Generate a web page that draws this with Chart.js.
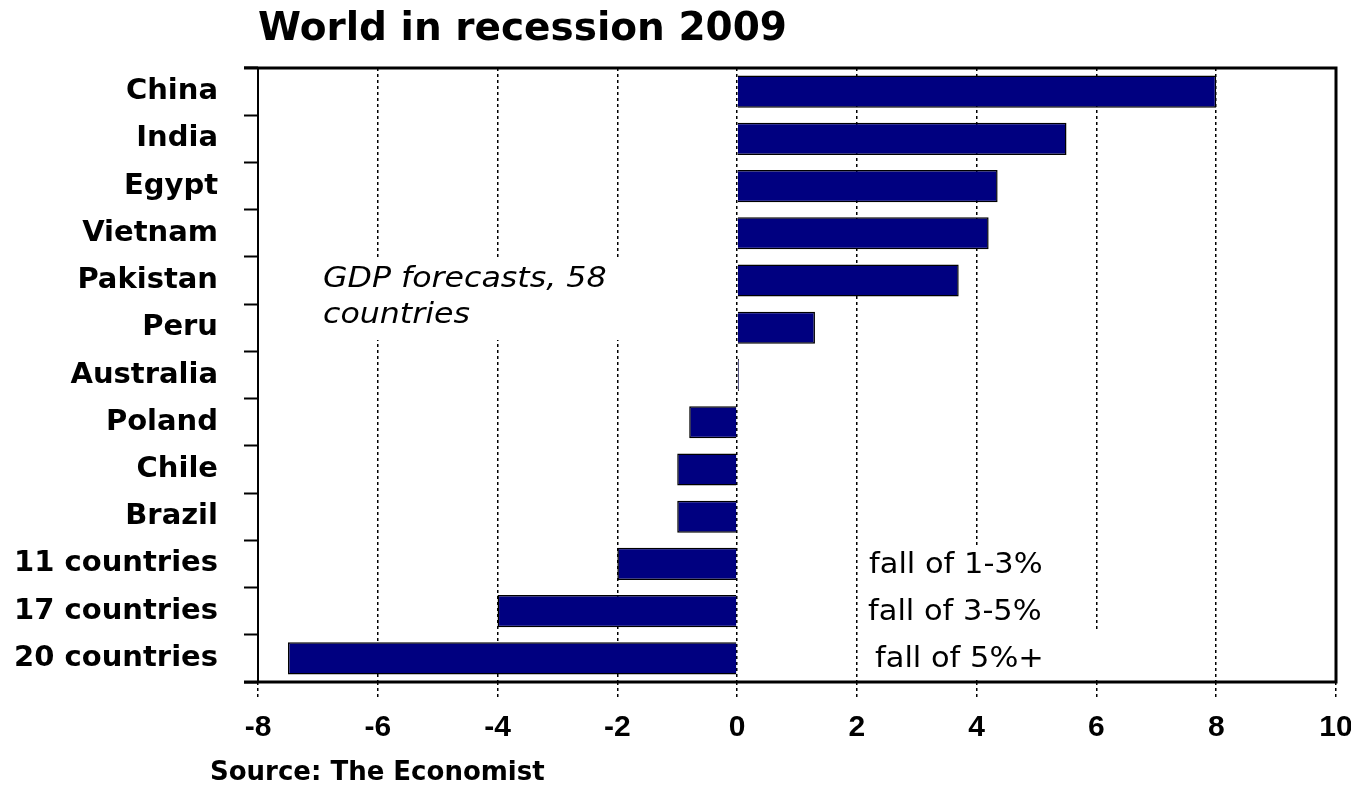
<!DOCTYPE html>
<html>
<head>
<meta charset="utf-8">
<script src="https://cdn.jsdelivr.net/npm/chart.js@4/dist/chart.umd.min.js"></script>
<style>
  html, body { margin: 0; padding: 0; background: #ffffff; }
  #wrap { position: absolute; left: 0; top: 0; width: 1351px; height: 785px; }
</style>
</head>
<body>
<div id="wrap"><canvas id="c" width="1351" height="785"></canvas></div>
<script>
// ---- data ----
const categories = ['China', 'India', 'Egypt', 'Vietnam', 'Pakistan', 'Peru', 'Australia',
  'Poland', 'Chile', 'Brazil', '11 countries', '17 countries', '20 countries'];
const gdpForecast = [8.0, 5.5, 4.35, 4.2, 3.7, 1.3, 0.03, -0.8, -1.0, -1.0, -2.0, -4.0, -7.5];
const xTicks = [-8, -6, -4, -2, 0, 2, 4, 6, 8, 10];
const titleText = 'World in recession 2009';
const sourceText = 'Source: The Economist';
const noteLines = ['GDP forecasts, 58', 'countries'];
const fallLabels = ['fall of 1-3%', 'fall of 3-5%', 'fall of 5%+'];
const fallRows = ['11 countries', '17 countries', '20 countries'];

const overlayPlugin = {
  id: 'overlay',
  beforeDatasetsDraw(chart) {
    const ctx = chart.ctx;
    const ys = chart.scales.y;
    ctx.save();
    // white boxes behind annotation texts (hide grid lines)
    ctx.fillStyle = '#ffffff';
    ctx.fillRect(318, 257, 312, 83);
    ctx.fillRect(864, 545, 191, 85);
    ctx.fillRect(864, 630, 243, chart.chartArea.bottom - 632);
    // GDP note
    ctx.fillStyle = '#000000';
    ctx.font = 'italic 28px "DejaVu Sans"';
    ctx.textBaseline = 'alphabetic';
    ctx.textAlign = 'left';
    const nx = 323;
    [287, 323].forEach((by, i) => {
      ctx.save();
      ctx.translate(nx, by);
      ctx.scale(1.13, 1);
      ctx.fillText(noteLines[i], 0, 0);
      ctx.restore();
    });
    // fall labels
    ctx.font = '29px "DejaVu Sans"';
    const fx = [869, 868, 875];
    fallLabels.forEach((t, i) => {
      const yy = ys.getPixelForValue(categories.indexOf(fallRows[i])) + 9;
      ctx.save();
      ctx.translate(fx[i], yy);
      ctx.scale(1.05, 1);
      ctx.fillText(t, 0, 0);
      ctx.restore();
    });
    ctx.restore();
  },
  afterDraw(chart) {
    const ctx = chart.ctx;
    const a = chart.chartArea;
    ctx.save();
    ctx.strokeStyle = '#000000';
    // frame
    ctx.lineWidth = 3;
    ctx.beginPath();
    ctx.moveTo(244, a.top); ctx.lineTo(a.right + 1.5, a.top);
    ctx.moveTo(244, a.bottom); ctx.lineTo(a.right + 1.5, a.bottom);
    ctx.moveTo(a.right, a.top); ctx.lineTo(a.right, a.bottom);
    ctx.stroke();
    ctx.lineWidth = 2;
    ctx.beginPath();
    ctx.moveTo(a.left, a.top); ctx.lineTo(a.left, a.bottom);
    ctx.stroke();
    // title
    ctx.fillStyle = '#000000';
    ctx.textAlign = 'left';
    ctx.textBaseline = 'alphabetic';
    ctx.font = 'bold 39px "DejaVu Sans"';
    ctx.fillText(titleText, 258, 40);
    // source
    ctx.font = 'bold 26px "DejaVu Sans"';
    ctx.fillText(sourceText, 210, 780);
    ctx.restore();
  }
};

new Chart(document.getElementById('c'), {
  type: 'bar',
  data: {
    labels: categories,
    datasets: [{
      data: gdpForecast,
      backgroundColor: '#000080',
      borderColor: '#000000',
      borderWidth: 1.5,
      borderSkipped: 'start',
      barPercentage: 0.68,
      categoryPercentage: 1.0
    }]
  },
  options: {
    indexAxis: 'y',
    responsive: false,
    animation: false,
    devicePixelRatio: 1,
    layout: { padding: { top: 68, right: 15, left: 0, bottom: 0 } },
    plugins: { legend: { display: false }, title: { display: false }, tooltip: { enabled: false } },
    scales: {
      x: {
        type: 'linear',
        min: -8, max: 10,
        afterBuildTicks(scale) { scale.ticks = xTicks.map(v => ({ value: v })); },
        afterFit(scale) { scale.height = 103; scale.paddingLeft = 0; scale.paddingRight = 0; },
        ticks: {
          color: '#000000',
          font: { family: '"Liberation Sans", Arial, sans-serif', weight: 'bold', size: 30 },
          padding: 10,
          maxRotation: 0
        },
        grid: {
          color: '#000000',
          lineWidth: 1.5,
          drawTicks: true,
          tickLength: 18,
          tickColor: '#000000',
          tickWidth: 1.5,
          tickBorderDash: [3, 3]
        },
        border: { display: false, dash: [3, 3] }
      },
      y: {
        type: 'category',
        offset: true,
        afterFit(scale) { scale.width = 258; scale.paddingTop = 0; scale.paddingBottom = 0; },
        ticks: {
          color: '#000000',
          font: { family: '"DejaVu Sans", sans-serif', weight: 'bold', size: 29 },
          padding: 26,
          autoSkip: false
        },
        grid: {
          offset: true,
          drawOnChartArea: false,
          drawTicks: true,
          tickLength: 14,
          tickColor: '#000000',
          tickWidth: 2,
          color: '#000000'
        },
        border: { display: false }
      }
    }
  },
  plugins: [overlayPlugin]
});
</script>
</body>
</html>
